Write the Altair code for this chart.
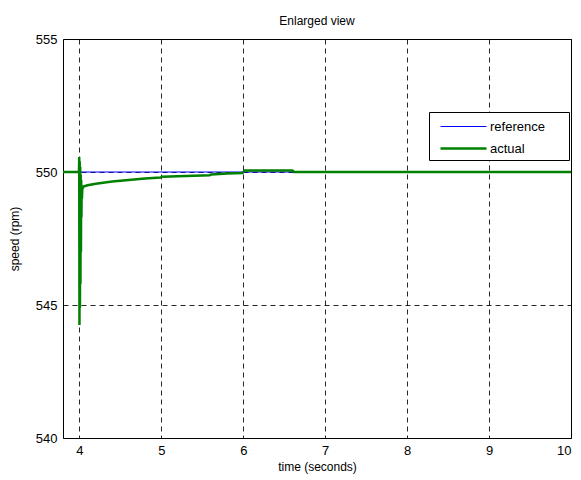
import altair as alt
import pandas as pd

# reference signal
ref_t = [3.8, 10.0]
ref_v = [550.0, 550.0]

# actual signal
act_t = [3.8, 3.995, 3.998, 4.001, 4.004, 4.007, 4.010, 4.013, 4.016, 4.019,
         4.022, 4.025, 4.028, 4.031, 4.035, 4.05, 4.1, 4.2, 4.4, 4.6,
         4.8, 4.99, 5.01, 5.3, 5.59, 5.61, 5.8, 5.99, 6.02, 6.6,
         6.62, 10.0]
act_v = [550.0, 550.0, 550.56, 544.25, 550.4, 544.9, 550.2, 545.8, 549.9, 547.0,
         549.7, 548.3, 549.5, 549.0, 549.35, 549.45, 549.5, 549.56, 549.64, 549.7,
         549.76, 549.79, 549.82, 549.85, 549.88, 549.91, 549.94, 549.96, 550.06, 550.06,
         550.0, 550.0]

series_names = ["reference", "actual"]
series_colors = ["#0000ff", "#008000"]
series_widths = [1.0, 2.5]

x_ticks = [4, 5, 6, 7, 8, 9, 10]
y_ticks = [540, 545, 550, 555]

df = pd.concat([
    pd.DataFrame({"t": ref_t, "v": ref_v, "series": "reference", "o": range(len(ref_t))}),
    pd.DataFrame({"t": act_t, "v": act_v, "series": "actual", "o": range(len(act_t))}),
])

FONT = "Liberation Sans"

legend = alt.Legend(title=None, orient="none", legendX=366, legendY=73,
                    symbolType="M-0.4,0H4.2", symbolSize=400,
                    labelFontSize=13, labelFont=FONT, labelColor="black",
                    labelExpr="datum.label + '\u2800\u2800'",
                    strokeColor="black", fillColor="white", padding=4,
                    rowPadding=3, labelOffset=34, cornerRadius=0)

chart = alt.Chart(df).mark_line(clip=True).encode(
    x=alt.X("t:Q", scale=alt.Scale(domain=[3.8, 10], nice=False, zero=False),
            axis=alt.Axis(values=x_ticks, title="time (seconds)")),
    y=alt.Y("v:Q", scale=alt.Scale(domain=[540, 555], nice=False, zero=False),
            axis=alt.Axis(values=y_ticks, title="speed (rpm)")),
    color=alt.Color("series:N", scale=alt.Scale(domain=series_names, range=series_colors),
                    legend=legend),
    strokeWidth=alt.StrokeWidth("series:N", scale=alt.Scale(domain=series_names, range=series_widths),
                                legend=legend),
    order="o:Q",
    detail="series:N",
).properties(
    width=508, height=399,
    title=alt.TitleParams("Enlarged view", fontSize=12, fontWeight="normal", font=FONT,
                          color="black", offset=5),
).configure(
    autosize=alt.AutoSizeParams(type="none"),
    padding={"left": 63, "top": 39, "right": 10, "bottom": 42},
    background="white",
).configure_view(
    stroke="black", strokeWidth=1,
).configure_axis(
    grid=True, gridColor="black", gridDash=[5, 4], gridOpacity=0.85, gridWidth=1,
    domain=False, ticks=False,
    labelFont=FONT, labelFontSize=13, labelColor="black", labelPadding=6,
    titleFont=FONT, titleFontSize=12, titleFontWeight="normal", titleColor="black",
).configure_axisY(titlePadding=14).configure_axisX(titlePadding=4)

chart.save("out.html", embed_options={"renderer": "svg", "actions": False})
